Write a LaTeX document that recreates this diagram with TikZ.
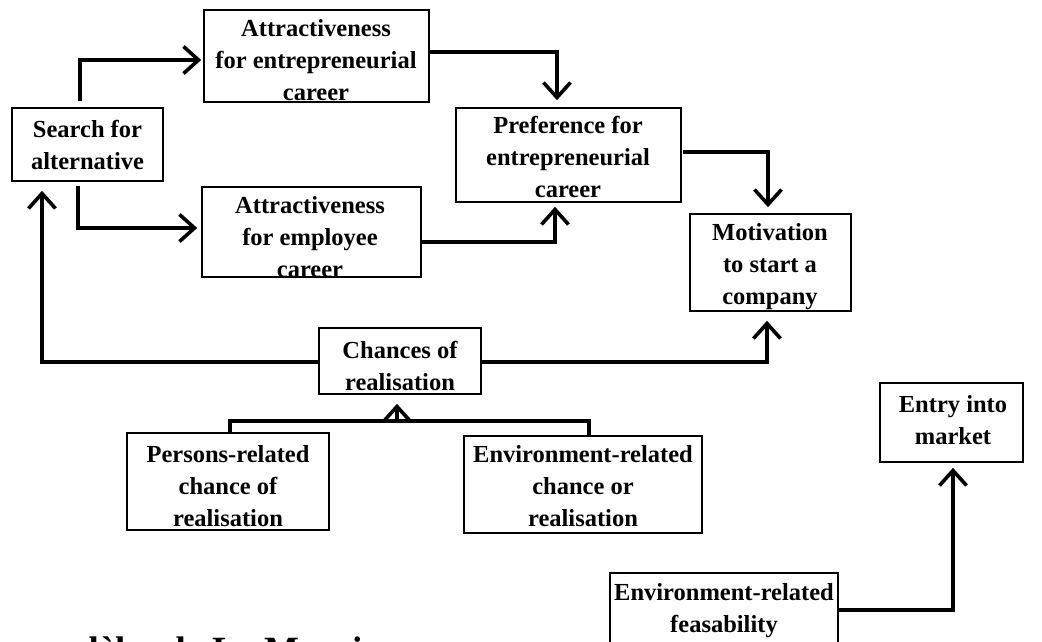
\documentclass[tikz,border=0pt]{standalone}
\usepackage{fontspec}
\setmainfont{Liberation Serif}
\usetikzlibrary{arrows.meta,fit}
\begin{document}
\begin{tikzpicture}[x=1pt,y=-1pt,
  box/.style={draw, line width=1.6pt, inner sep=0pt},
  txt/.style={anchor=north, inner sep=0pt, align=center, font=\bfseries\fontsize{24.5}{32}\selectfont},
  conn/.style={line width=3.6pt, -{Straight Barb[length=15pt,width=27pt]}},
  link/.style={line width=3.6pt}]
\useasboundingbox (0,0) rectangle (1042,642);
% texts
\node[txt] (search-t) at (87.5,120) {Search for\\alternative};
\node[txt] (attE-t) at (316,19) {Attractiveness\\for entrepreneurial\\career};
\node[txt] (attEmp-t) at (310,196) {Attractiveness\\for employee\\career};
\node[txt] (pref-t) at (568,116) {Preference for\\entrepreneurial\\career};
\node[txt] (motiv-t) at (770,223) {Motivation\\to start a\\company};
\node[txt] (chances-t) at (400,341) {Chances of\\realisation};
\node[txt] (persons-t) at (228,445) {Persons-related\\chance of\\realisation};
\node[txt] (envchance-t) at (583,445) {Environment-related\\chance or\\realisation};
\node[txt] (entry-t) at (953,395) {Entry into\\market};
\node[txt] (envfeas-t) at (724,583) {Environment-related\\feasability};
% boxes
\node[box, fit={(12,108) (163,181)}] (search) {};
\node[box, fit={(204,10) (429,102)}] (attE) {};
\node[box, fit={(202,187) (421,277)}] (attEmp) {};
\node[box, fit={(456,108) (681,202)}] (pref) {};
\node[box, fit={(690,214) (851,311)}] (motiv) {};
\node[box, fit={(319,328) (481,394)}] (chances) {};
\node[box, fit={(127,433) (329,530)}] (persons) {};
\node[box, fit={(464,436) (702,533)}] (envchance) {};
\node[box, fit={(880,383) (1023,462)}] (entry) {};
\node[box, fit={(610,573) (838,680)}] (envfeas) {};
% connectors
\draw[conn, shorten <=6pt, shorten >=2pt] ([xshift=-7.5pt]search.north) |- ([yshift=-4pt]attE.west);
\draw[conn, shorten <=4pt, shorten >=4pt] ([xshift=-9.5pt]search.south) |- ([yshift=4pt]attEmp.west);
\draw[conn, shorten >=7pt] ([yshift=4pt]attE.east) -| ([xshift=-11.5pt]pref.north);
\draw[conn, shorten >=4pt] ([yshift=-10pt]attEmp.east) -| ([xshift=-13.5pt]pref.south);
\draw[conn, shorten <=1pt, shorten >=6pt] ([yshift=3pt]pref.east) -| ([xshift=-2.5pt]motiv.north);
\draw[conn, shorten >=9pt] ([yshift=-1pt]chances.west) -| ([xshift=-45.5pt]search.south);
\draw[conn, shorten >=9pt] ([yshift=-1pt]chances.east) -| ([xshift=-3.5pt]motiv.south);
\coordinate (bar) at (397,421);
\draw[link] ([xshift=2pt]persons.north) |- (bar) -| ([xshift=6pt]envchance.north);
\draw[conn, shorten >=9pt] (bar) -- ([xshift=-3pt]chances.south);
\draw[conn, shorten >=5pt] ([yshift=16.5pt]envfeas.east) -| ([xshift=1.5pt]entry.south);
% caption, cut off by the lower edge as in the reference
\node[anchor=base west, inner sep=0pt, font=\bfseries\fontsize{37}{40}\selectfont] (caption) at (29,662) {modèles de La Moraine};
\end{tikzpicture}
\end{document}
